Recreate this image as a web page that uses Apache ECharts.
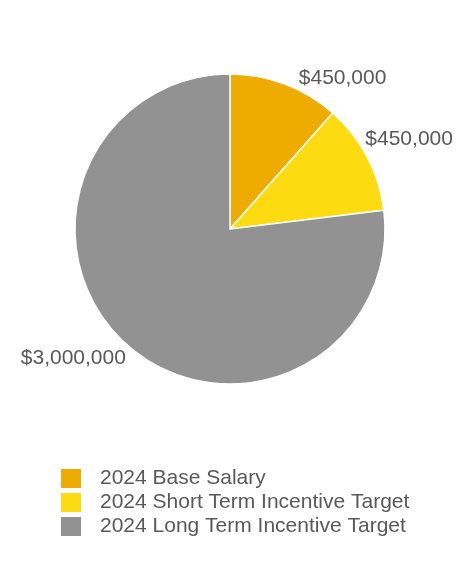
<!DOCTYPE html>
<html>
<head>
<meta charset="utf-8">
<script src="https://cdn.jsdelivr.net/npm/echarts@6/dist/echarts.min.js"></script>
<style>
  html, body { margin: 0; padding: 0; background: #fff; }
  #main { width: 460px; height: 576px; }
</style>
</head>
<body>
<div id="main"></div>
<script>
// pay components
const categories = [
  "2024 Base Salary",
  "2024 Short Term Incentive Target",
  "2024 Long Term Incentive Target"
];
const values = [450000, 450000, 3000000];
const colors = ["#EFAC00", "#FDDB11", "#929292"];

let myChart = echarts.init(document.getElementById("main"));

let pieData = categories.map(function (name, i) {
  return { name: name, value: values[i], itemStyle: { color: colors[i] } };
});

// small nudges so labels sit like the original
var labelNudge = [[6, 2], [-14, -14], [9, 7]];

var option = {
  animation: false,
  textStyle: { fontFamily: "Liberation Sans, Arial, sans-serif" },
  legend: {
    orient: "vertical",
    left: 54,
    top: 462,
    itemWidth: 22,
    itemHeight: 21,
    itemGap: 1,
    icon: "rect",
    textStyle: { color: "#595959", fontSize: 21, lineHeight: 21, padding: [0, 0, 0, 13] },
    data: categories
  },
  series: [
    {
      type: "pie",
      center: [230, 229],
      radius: 155,
      startAngle: 90,
      clockwise: true,
      itemStyle: { borderColor: "#fff", borderWidth: 1.5 },
      label: {
        show: true,
        position: "outside",
        color: "#595959",
        fontSize: 21,
        overflow: "none",
        formatter: function (p) {
          return "$" + p.value.toLocaleString("en-US");
        }
      },
      labelLine: { show: false, length: 8, length2: 0 },
      labelLayout: function (p) {
        var n = labelNudge[p.dataIndex];
        return { dx: n[0], dy: n[1] };
      },
      emphasis: { disabled: true },
      data: pieData
    }
  ]
};

myChart.setOption(option);
</script>
</body>
</html>
